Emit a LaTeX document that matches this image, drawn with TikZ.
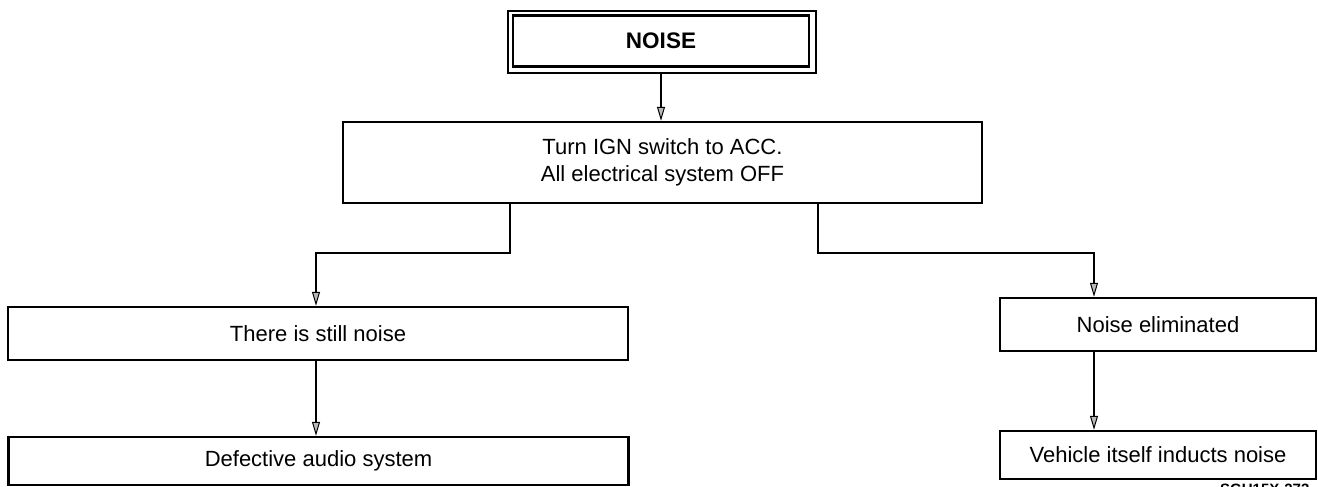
\documentclass[tikz,border=0pt]{standalone}
\usepackage{fontspec}
\setmainfont{Liberation Sans}
\usetikzlibrary{arrows.meta}
\tikzset{
  box/.style={draw, line width=2.4pt, inner sep=0pt, font=\fontsize{22}{27}\selectfont, align=center},
  conn/.style={line width=2pt, -{Triangle[length=14pt,width=8pt,fill=gray!55,line width=1pt]}},
}
\begin{document}
\begin{tikzpicture}[x=1pt,y=-1pt]
\useasboundingbox (0,0) rectangle (1318,487);
% NOISE double box
\node[draw, line width=1.6pt, minimum width=308pt, minimum height=62pt, anchor=north west] (outer) at (507,10) {};
\node[draw, line width=2.4pt, minimum width=296pt, minimum height=51pt, font=\bfseries\fontsize{22.5}{26}\selectfont] (noise) at (661,41) {NOISE};
% step boxes
\node[box, minimum width=639pt, minimum height=81pt] (ign) at (662.5,162.5) {Turn IGN switch to ACC.\\All electrical system OFF};
\node[box, minimum width=620pt, minimum height=53pt] (still) at (318,333.5) {There is still noise};
\node[box, minimum width=316pt, minimum height=53pt] (elim) at (1158,324.5) {Noise eliminated};
\node[box, minimum width=620pt, minimum height=48pt] (defect) at (318.5,461) {Defective audio system};
\node[box, minimum width=316pt, minimum height=48pt] (veh) at (1158,455) {Vehicle itself inducts noise};
% connectors
\draw[conn] (outer.south -| noise.south) -- (ign.north -| noise.south);
\coordinate (lb) at (510,253);
\coordinate (rb) at (818,253);
\draw[conn] (ign.south -| lb) -- (lb) -- (lb -| 316,0) -- (still.north -| 316,0);
\draw[conn] (ign.south -| rb) -- (rb) -- (rb -| 1094,0) -- (elim.north -| 1094,0);
\draw[conn] (still.south -| 316,0) -- (defect.north -| 316,0);
\draw[conn] (elim.south -| 1094,0) -- (veh.north -| 1094,0);
% figure code (clipped at bottom edge, as in the reference)
\node[anchor=north west, inner sep=0pt, font=\bfseries\fontsize{15}{18}\selectfont] (code) at (1220,484) {SGU15X-273};
\end{tikzpicture}
\end{document}
